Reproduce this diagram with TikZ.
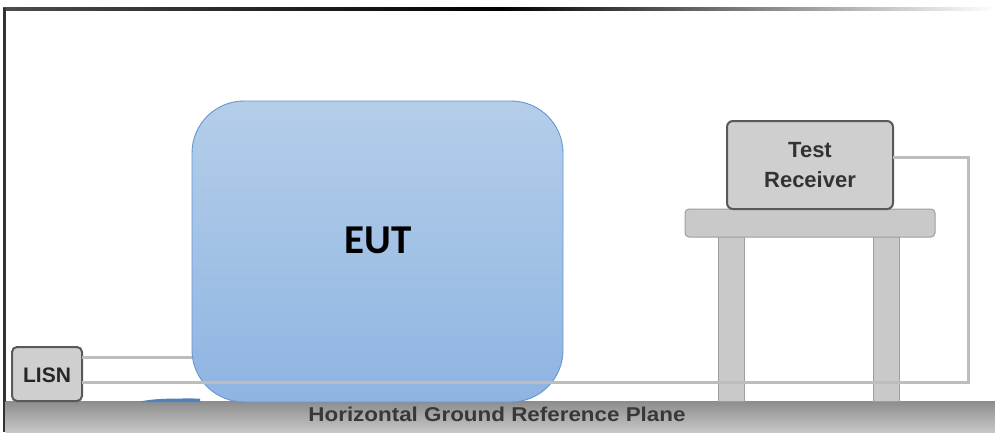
\documentclass[tikz,border=0pt]{standalone}
\usepackage{fontspec}
\setmainfont{Liberation Sans}
\newfontfamily\eutfont{Carlito}
\definecolor{sliver}{RGB}{79,129,189}
\definecolor{euttop}{RGB}{180,206,233}
\definecolor{eutbot}{RGB}{143,180,226}
\definecolor{eutline}{RGB}{100,150,212}
\begin{document}
\begin{tikzpicture}[x=1pt,y=-1pt,
  cable/.style={draw=black!26,line width=3pt},
  boxgray/.style={rounded corners=6pt,fill=black!19,draw=black!65,line width=2pt},
  tablepart/.style={fill=black!21,draw=black!38,line width=1pt},
  lbl/.style={font=\bfseries,text=black!80,align=center,inner sep=0pt}]
\useasboundingbox (0,0) rectangle (995,432);
\fill[white] (0,0) rectangle (995,432);
% border
\shade[left color=black!70,right color=white,middle color=black] (3,7) rectangle (995,10);
\fill[black!80] (3,8) rectangle (5.5,432);
% ground plane
\shade[top color=black!45,bottom color=black!22] (5.5,401) rectangle (995,432);
\node[lbl,font=\bfseries\fontsize{20}{22}\selectfont,text=black!78] (grp) at (497,414) {\scalebox{1.12}[1]{Horizontal Ground Reference Plane}};
% blue sliver
\fill[sliver] (140,402) .. controls (150,398) and (180,398.5) .. (200,398.5) -- (200,402) -- cycle;
% EUT
\shade[rounded corners=52pt,top color=euttop,bottom color=eutbot]
  (192,101) rectangle (563,402);
\draw[rounded corners=52pt,draw=eutline,line width=0.9pt]
  (192,101) rectangle (563,402);
\node[inner sep=0pt,font=\eutfont\bfseries\fontsize{41}{45}\selectfont] (eut) at (378,240) {EUT};
\coordinate (eutw) at (192,357);
% table
\draw[tablepart] (718,236) rectangle (744,401);
\draw[tablepart] (873,236) rectangle (899,401);
\draw[tablepart,rounded corners=4pt] (685,209) rectangle (935,237);
% receiver
\draw[boxgray] (727,121) rectangle (893,209);
\node[lbl,font=\bfseries\fontsize{22}{30}\selectfont] (rx) at (810,165) {Test\\Receiver};
\coordinate (rxe) at (893,157);
% LISN
\draw[boxgray,rounded corners=5pt] (12,347) rectangle (82,401);
\node[lbl,font=\bfseries\fontsize{21}{24}\selectfont,text=black!85] (lisn) at (47,375) {LISN};
\coordinate (l1) at (82,357);
\coordinate (l2) at (82,382);
\coordinate (c1) at (968,157);
\coordinate (c2) at (968,382);
% cables
\draw[cable] (l1) -- (eutw);
\draw[cable] (l2) -- (c2) -- (c1) -- (rxe);
\end{tikzpicture}
\end{document}
